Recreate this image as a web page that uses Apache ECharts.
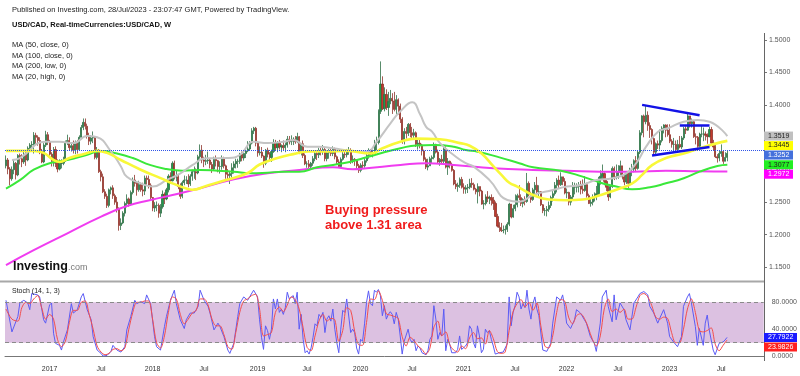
<!DOCTYPE html>
<html>
<head>
<meta charset="utf-8">
<title>USD/CAD weekly</title>
<script src="https://cdn.jsdelivr.net/npm/echarts/dist/echarts.min.js"></script>
<style>
  body { margin: 0; padding: 0; background: #fff; }
  #main { width: 800px; height: 376px; }
</style>
</head>
<body>
<div id="main"></div>
<script>
// weekly bars, first week starts Mon 2016-08-01
var firstOpen = 1.306;
var closes = [
  1.315,1.301,1.286,1.300,1.310,1.292,1.322,1.317,1.312,1.324,1.315,1.333,1.338,1.339,1.353,1.350,1.345,1.329,1.312,1.338,1.354,1.343,
  1.324,1.313,1.331,1.310,1.301,1.310,1.310,1.314,1.342,1.345,1.334,1.337,1.330,1.342,1.331,1.350,1.365,1.373,1.367,1.352,1.344,1.349,1.350,1.319,1.330,1.297,1.289,1.266,1.259,1.245,1.269,1.272,1.260,1.250,1.240,1.214,1.218,1.233,1.248,1.255,1.247,1.265,1.284,1.279,1.269,1.277,1.269,1.267,1.287,1.285,1.276,1.257,
  1.241,1.245,1.245,1.233,1.243,1.262,1.255,1.269,1.290,1.283,1.310,1.289,1.289,1.274,1.259,1.280,1.284,1.284,1.278,1.290,1.297,1.297,1.295,1.320,1.330,1.315,1.313,1.314,1.315,1.308,1.301,1.316,1.314,1.305,1.305,1.317,1.306,1.293,1.291,1.294,1.303,1.309,1.313,1.313,1.324,1.318,1.325,1.329,1.332,1.341,1.360,1.364,
  1.341,1.326,1.327,1.321,1.310,1.330,1.324,1.319,1.328,1.342,1.334,1.342,1.335,1.337,1.334,1.338,1.347,1.343,1.344,1.347,1.343,1.351,1.328,1.340,1.322,1.309,1.309,1.305,1.310,1.317,1.325,1.323,1.330,1.328,1.331,1.317,1.326,1.328,1.325,1.332,1.320,1.312,1.305,1.316,1.324,1.323,1.328,1.328,1.314,1.316,1.314,1.306,
  1.299,1.307,1.306,1.314,1.322,1.330,1.324,1.324,1.342,1.342,1.390,1.432,1.394,1.416,1.396,1.405,1.410,1.406,1.393,1.408,1.398,1.378,1.344,1.359,1.356,1.370,1.357,1.353,1.357,1.339,1.341,1.338,1.329,1.316,1.304,1.306,1.317,1.319,1.339,1.327,1.312,1.316,1.313,1.332,1.304,1.313,1.308,1.299,1.278,1.274,1.276,1.285,
  1.273,1.270,1.272,1.273,1.279,1.277,1.270,1.266,1.274,1.267,1.247,1.248,1.258,1.256,1.257,1.253,1.248,1.228,1.213,1.211,1.206,1.207,1.208,1.216,1.247,1.227,1.240,1.246,1.260,1.257,1.248,1.254,1.251,1.279,1.262,1.254,1.269,1.276,1.266,1.266,1.246,1.237,1.237,1.239,1.245,1.257,1.263,1.276,1.284,1.277,1.289,1.282,1.264,
  1.265,1.250,1.258,1.273,1.273,1.274,1.276,1.270,1.268,1.277,1.260,1.248,1.250,1.257,1.261,1.263,1.285,1.290,1.294,1.282,1.273,1.258,1.274,1.302,1.289,1.289,1.296,1.306,1.289,1.281,1.295,1.279,1.301,1.301,1.314,1.302,1.327,1.357,1.383,1.374,1.384,1.368,1.362,1.348,1.327,1.340,1.338,1.345,1.364,1.369,1.361,1.354,
  1.344,1.339,1.339,1.331,1.339,1.335,1.349,1.363,1.361,1.383,1.371,1.374,1.351,1.350,1.336,1.355,1.355,1.355,1.353,1.351,1.362,1.341,1.335,1.320,1.318,1.325,1.328,1.313,1.319,1.3252
];
var highs = [
  1.322,1.318,1.304,1.305,1.315,1.312,1.324,1.325,1.324,1.330,1.327,1.336,1.341,1.344,1.358,1.357,1.353,1.350,1.332,1.341,1.360,1.358,
  1.346,1.327,1.335,1.336,1.316,1.316,1.316,1.320,1.345,1.354,1.350,1.342,1.345,1.345,1.346,1.353,1.369,1.379,1.379,1.371,1.357,1.353,1.359,1.352,1.335,1.332,1.300,1.294,1.270,1.263,1.271,1.274,1.276,1.263,1.258,1.242,1.225,1.236,1.251,1.262,1.257,1.268,1.288,1.292,1.282,1.283,1.280,1.280,1.291,1.291,1.291,1.279,
  1.258,1.250,1.251,1.248,1.247,1.268,1.265,1.272,1.293,1.296,1.313,1.314,1.298,1.293,1.279,1.283,1.291,1.290,1.293,1.293,1.300,1.305,1.302,1.323,1.339,1.338,1.320,1.323,1.328,1.317,1.312,1.320,1.322,1.315,1.313,1.322,1.320,1.308,1.301,1.297,1.310,1.313,1.317,1.317,1.326,1.328,1.329,1.334,1.344,1.344,1.364,1.366,
  1.366,1.343,1.336,1.335,1.322,1.332,1.334,1.327,1.331,1.347,1.346,1.344,1.346,1.339,1.345,1.342,1.352,1.352,1.353,1.350,1.352,1.357,1.352,1.341,1.345,1.325,1.313,1.315,1.312,1.321,1.329,1.330,1.334,1.334,1.338,1.334,1.330,1.332,1.334,1.336,1.334,1.322,1.316,1.319,1.328,1.330,1.332,1.335,1.333,1.322,1.318,1.316,
  1.309,1.310,1.313,1.318,1.328,1.333,1.332,1.331,1.346,1.351,1.393,1.467,1.444,1.427,1.424,1.420,1.423,1.418,1.420,1.415,1.410,1.402,1.381,1.364,1.366,1.372,1.372,1.366,1.363,1.359,1.348,1.348,1.340,1.331,1.319,1.317,1.320,1.322,1.342,1.340,1.331,1.318,1.323,1.337,1.336,1.318,1.314,1.311,1.301,1.284,1.280,1.288,
  1.289,1.279,1.276,1.278,1.286,1.287,1.280,1.272,1.279,1.274,1.269,1.253,1.262,1.267,1.260,1.262,1.258,1.251,1.232,1.219,1.218,1.214,1.214,1.219,1.249,1.247,1.246,1.262,1.263,1.276,1.262,1.256,1.259,1.295,1.282,1.266,1.272,1.281,1.289,1.276,1.267,1.247,1.241,1.244,1.251,1.260,1.267,1.281,1.287,1.291,1.296,1.289,1.287,
  1.271,1.266,1.261,1.281,1.280,1.279,1.281,1.283,1.285,1.290,1.280,1.263,1.255,1.262,1.265,1.275,1.289,1.299,1.308,1.296,1.285,1.275,1.276,1.305,1.305,1.308,1.307,1.314,1.306,1.292,1.297,1.297,1.303,1.309,1.316,1.321,1.330,1.361,1.384,1.385,1.398,1.390,1.373,1.364,1.350,1.342,1.345,1.362,1.367,1.370,1.370,1.370,
  1.370,1.347,1.349,1.345,1.346,1.352,1.352,1.366,1.367,1.386,1.383,1.379,1.376,1.356,1.352,1.357,1.368,1.365,1.359,1.356,1.366,1.366,1.346,1.339,1.324,1.330,1.339,1.330,1.327,1.329
];
var lows = [
  1.302,1.293,1.276,1.283,1.293,1.285,1.290,1.308,1.304,1.309,1.306,1.313,1.327,1.330,1.325,1.340,1.337,1.324,1.310,1.310,1.335,1.338,
  1.318,1.305,1.305,1.304,1.296,1.299,1.302,1.307,1.312,1.338,1.330,1.328,1.325,1.324,1.325,1.329,1.347,1.361,1.362,1.348,1.338,1.339,1.341,1.316,1.316,1.295,1.282,1.264,1.255,1.241,1.242,1.262,1.255,1.246,1.234,1.206,1.207,1.216,1.228,1.242,1.243,1.245,1.262,1.274,1.260,1.266,1.266,1.259,1.261,1.277,1.271,1.254,
  1.236,1.235,1.236,1.226,1.227,1.240,1.247,1.253,1.265,1.278,1.282,1.285,1.282,1.270,1.255,1.256,1.276,1.278,1.273,1.275,1.283,1.286,1.284,1.293,1.317,1.310,1.304,1.307,1.309,1.302,1.295,1.298,1.305,1.296,1.294,1.300,1.302,1.286,1.284,1.278,1.288,1.294,1.302,1.303,1.309,1.313,1.314,1.318,1.327,1.330,1.339,1.355,
  1.336,1.320,1.322,1.318,1.303,1.307,1.319,1.313,1.312,1.326,1.330,1.327,1.331,1.327,1.329,1.327,1.334,1.339,1.338,1.338,1.340,1.341,1.324,1.322,1.318,1.307,1.303,1.302,1.301,1.306,1.313,1.315,1.318,1.322,1.323,1.313,1.313,1.317,1.321,1.321,1.316,1.308,1.303,1.303,1.314,1.318,1.319,1.323,1.309,1.310,1.306,1.301,
  1.295,1.296,1.301,1.303,1.311,1.317,1.322,1.319,1.323,1.330,1.339,1.386,1.392,1.390,1.392,1.383,1.401,1.386,1.390,1.386,1.385,1.372,1.340,1.339,1.348,1.352,1.350,1.347,1.349,1.335,1.331,1.333,1.322,1.313,1.301,1.299,1.306,1.310,1.316,1.325,1.310,1.306,1.309,1.310,1.302,1.292,1.302,1.297,1.276,1.270,1.266,1.272,
  1.271,1.263,1.263,1.264,1.270,1.272,1.268,1.262,1.248,1.259,1.246,1.239,1.245,1.250,1.247,1.245,1.238,1.227,1.211,1.204,1.204,1.202,1.200,1.204,1.213,1.225,1.226,1.236,1.242,1.253,1.244,1.242,1.245,1.249,1.259,1.249,1.252,1.262,1.262,1.258,1.244,1.233,1.229,1.228,1.235,1.241,1.251,1.260,1.265,1.272,1.275,1.276,1.262,
  1.256,1.245,1.245,1.254,1.262,1.265,1.265,1.262,1.263,1.266,1.257,1.247,1.243,1.245,1.251,1.253,1.260,1.277,1.285,1.276,1.267,1.252,1.256,1.272,1.284,1.285,1.286,1.292,1.285,1.276,1.278,1.272,1.278,1.290,1.296,1.298,1.300,1.324,1.353,1.350,1.370,1.360,1.349,1.339,1.323,1.322,1.332,1.331,1.342,1.356,1.350,1.351,
  1.341,1.334,1.330,1.330,1.326,1.333,1.332,1.346,1.355,1.360,1.365,1.365,1.349,1.339,1.331,1.335,1.350,1.344,1.345,1.340,1.350,1.340,1.329,1.318,1.311,1.313,1.320,1.309,1.313,1.313
];
var futureWeeks = 18;

// moving averages: [week index, value]
var ma50Close = [[0,1.329],[7,1.329],[14,1.329],[19,1.326],[24,1.315],[27,1.312],[32,1.318],[39,1.324],[46,1.329],[51,1.326],[58,1.315],[68,1.300],[78,1.287],[84,1.279],[91,1.271],[94,1.269],[101,1.275],[111,1.284],[122,1.295],[128,1.308],[137,1.318],[145,1.324],[153,1.328],[162,1.328],[172,1.329],[184,1.325],[190,1.333],[199,1.343],[207,1.348],[219,1.347],[229,1.341],[234,1.337],[240,1.325],[246,1.305],[250,1.292],[254,1.280],[258,1.274],[266,1.261],[274,1.254],[283,1.253],[291,1.254],[300,1.261],[308,1.269],[316,1.279],[321,1.292],[326,1.307],[333,1.318],[342,1.325],[350,1.333],[359,1.341],[364,1.3445]];
var ma100Close = [[0,1.271],[7,1.284],[14,1.300],[22,1.310],[31,1.315],[41,1.323],[48,1.329],[56,1.325],[64,1.318],[73,1.307],[81,1.301],[89,1.2985],[98,1.2996],[107,1.2985],[115,1.297],[123,1.2945],[132,1.2954],[140,1.297],[148,1.297],[157,1.3037],[165,1.3073],[174,1.3124],[182,1.3191],[190,1.3262],[199,1.333],[207,1.3375],[216,1.338],[226,1.3355],[232,1.3304],[238,1.3278],[249,1.319],[259,1.310],[266,1.3037],[280,1.2985],[291,1.2893],[300,1.280],[308,1.274],[316,1.2698],[325,1.2729],[333,1.279],[342,1.2868],[350,1.297],[359,1.3057],[364,1.3077]];
var ma200Low = [[0,1.153],[14,1.176],[31,1.202],[48,1.2276],[61,1.244],[73,1.2533],[84,1.261],[98,1.2714],[115,1.2852],[132,1.2945],[148,1.2996],[165,1.3037],[175,1.3006],[182,1.3022],[199,1.3073],[212,1.310],[226,1.3073],[246,1.3022],[266,1.2996],[283,1.2985],[300,1.297],[316,1.297],[333,1.2985],[350,1.2975],[364,1.2972]];
var ma20High = [[3,1.315],[7,1.318],[20,1.343],[27,1.343],[34,1.341],[41,1.352],[46,1.350],[53,1.328],[58,1.305],[61,1.289],[68,1.279],[74,1.274],[81,1.284],[88,1.2945],[94,1.307],[101,1.3176],[112,1.318],[118,1.3227],[125,1.343],[132,1.341],[140,1.343],[145,1.346],[152,1.3355],[158,1.3355],[165,1.333],[174,1.329],[182,1.328],[187,1.343],[194,1.3716],[199,1.390],[205,1.404],[209,1.385],[212,1.366],[215,1.3586],[219,1.341],[227,1.320],[232,1.310],[236,1.3047],[244,1.284],[253,1.2533],[259,1.2507],[266,1.261],[276,1.2687],[283,1.274],[290,1.2764],[298,1.284],[306,1.2868],[313,1.2945],[318,1.310],[323,1.3355],[329,1.3586],[334,1.364],[342,1.374],[349,1.3767],[355,1.374],[364,1.3519]];

// stochastic (14,1,3): [week index, value]
var stochK = [[0,83],[3,36],[6,59],[7,79],[9,83],[11,79],[12,69],[13,93],[16,91],[17,88],[19,54],[20,49],[22,76],[23,79],[24,34],[25,19],[27,16],[28,9],[29,21],[31,39],[33,78],[34,64],[36,69],[38,88],[39,93],[41,69],[43,54],[44,29],[46,9],[48,4],[49,0],[51,1],[53,7],[54,16],[56,9],[58,6],[60,14],[61,39],[63,59],[65,83],[66,78],[68,81],[70,78],[71,91],[73,78],[75,29],[76,14],[78,9],[80,44],[81,59],[83,83],[85,98],[86,78],[88,54],[90,41],[91,54],[93,64],[95,64],[97,74],[98,98],[100,83],[102,74],[103,64],[105,39],[107,49],[108,44],[110,29],[112,9],[113,4],[115,19],[117,59],[118,78],[120,88],[122,83],[123,88],[125,98],[127,88],[128,54],
  [129,28],[130,10],[131,45],[132,38],[133,25],[134,40],[135,85],[136,70],[137,85],[138,65],[139,70],[140,62],[141,72],[142,95],[143,85],[144,85],[145,90],[146,78],[147,95],[148,40],[149,62],[150,25],[151,5],[152,8],[153,3],[154,12],[155,28],[156,48],[157,45],[158,62],[159,58],[160,65],[161,35],[162,55],[163,60],[164,52],[165,70],[166,40],[167,20],[168,5],[169,40],[170,68],[171,65],[172,85],[173,85],[174,35],[175,40],[176,35],[177,12],[178,3],[179,25],[180,22],[181,48],[182,80],[183,97],[184,78],[185,75],[186,98],[187,95],[188,99],[189,90],[190,60],[191,75],[192,55],[193,62],[194,66],[195,62],[196,48],[197,65],[198,55],[199,30],[200,3],[201,22],[202,20],[203,40],[204,25],[205,20],[206,25],[207,8],[208,15],[209,12],[210,5],[211,3],[212,2],[213,8],[214,25],[215,30],[216,75],[217,55],[218,25],[219,35],[220,30],[221,70],[222,8],[223,25],[224,18],[225,5],[226,3],[227,5],[228,10],[229,30],[230,10],[231,8],[232,15],[233,20],[234,45],[235,40],[236,20],[237,12],[238,45],[239,30],[240,5],[241,10],[242,40],[243,35],[244,38],[245,25],[246,15],[247,3],[248,3],[249,5],[250,3],[251,6],[252,8],[253,18],[254,88],[255,45],[256,65],[257,75],[258,95],[259,88],[260,70],[261,78],[262,72],[263,98],[264,70],[265,55],[266,78],[267,88],[268,70],[269,60],
  [271,9],[273,7],[275,19],[276,49],[278,88],[280,83],[281,91],[282,74],[283,49],[285,41],[287,54],[288,69],[290,64],[292,54],[293,49],[295,29],[297,19],[298,7],[300,49],[301,88],[303,98],[304,74],[306,51],[307,91],[308,54],[310,79],[312,69],[313,54],[315,39],[317,79],[319,88],[320,93],[322,96],[324,91],[325,74],[327,64],[329,49],[330,56],[332,69],[334,49],[335,29],[337,21],[339,14],[341,29],[342,74],[344,88],[345,93],[346,79],[348,44],[349,16],[350,41],[352,16],[353,49],[354,61],[355,39],[357,9],[358,2],[360,19],[362,21],[363,24],[364,27.7922]];
var stochD = [[0,70],[3,55],[6,52],[8,72],[10,80],[12,78],[14,85],[16,90],[18,72],[20,55],[22,62],[24,55],[26,25],[28,14],[30,22],[32,50],[34,68],[36,68],[38,80],[40,82],[42,62],[44,40],[46,15],[48,6],[50,2],[52,4],[54,10],[56,11],[58,8],[60,12],[62,40],[64,65],[66,80],[68,80],[70,82],[72,82],[74,55],[76,20],[78,12],[80,30],[82,65],[84,88],[86,85],[88,62],[90,48],[92,55],[94,64],[96,68],[98,85],[100,85],[102,76],[104,55],[106,45],[108,45],[110,32],[112,14],[114,10],[116,35],[118,65],[120,82],[122,85],[124,90],[126,92],[128,70],
  [130,30],[132,32],[134,35],[136,65],[138,73],[140,66],[142,76],[144,88],[146,84],[148,70],[150,42],[152,13],[154,8],[156,30],[158,52],[160,62],[162,52],[164,56],[166,54],[168,22],[170,38],[172,72],[174,68],[176,37],[178,17],[180,16],[182,50],[184,85],[186,84],[188,97],[190,83],[192,63],[194,61],[196,59],[198,56],[200,29],[202,15],[204,28],[206,23],[208,15],[210,10],[212,3],[214,12],[216,43],[218,52],[220,30],[222,36],[224,17],[226,9],[228,6],[230,15],[232,11],[234,27],[236,35],[238,26],[240,27],[242,18],[244,38],[246,26],[248,7],[250,4],[252,6],[254,38],[256,66],[258,78],[260,84],[262,73],[264,80],[266,68],[268,79],[270,45],
  [272,15],[274,12],[276,30],[278,65],[280,84],[282,82],[284,58],[286,48],[288,60],[290,63],[292,56],[294,42],[296,25],[298,15],[300,30],[302,70],[304,85],[306,66],[308,70],[310,65],[312,70],[314,55],[316,55],[318,72],[320,90],[322,93],[324,88],[326,75],[328,58],[330,55],[332,58],[334,56],[336,35],[338,20],[340,20],[342,40],[344,70],[346,85],[348,65],[350,38],[352,36],[354,38],[356,42],[358,18],[360,8],[362,16],[364,23.9826]];

// hand drawn trend lines: [[week, price], [week, price]]
var trendLines = [
  [[321, 1.400], [350, 1.384]],
  [[326, 1.322], [355, 1.335]],
  [[340, 1.3685], [355, 1.3685]]
];

var FONT = "'Liberation Sans', Arial, sans-serif";

// week categories (Mondays)
var weeks = [];
var t0 = Date.UTC(2016, 7, 1);
for (var i = 0; i < closes.length + futureWeeks; i++) {
  weeks.push(new Date(t0 + i * 7 * 86400000).toISOString().slice(0, 10));
}

var candles = [];
for (var i = 0; i < closes.length; i++) {
  var o = i ? closes[i - 1] : firstOpen;
  candles.push([o, closes[i], lows[i], highs[i]]);
}
var lastClose = closes[closes.length - 1];

function maLine(name, data, color, width) {
  return {
    name: name, type: 'line', xAxisIndex: 0, yAxisIndex: 0,
    data: data, smooth: 0.5, showSymbol: false, silent: true, z: 4,
    lineStyle: { color: color, width: width }
  };
}

var chart = echarts.init(document.getElementById('main'));

var option = {
  animation: false,
  backgroundColor: '#ffffff',
  grid: [
    { left: 5, right: 36, top: 40, height: 227 },
    { left: 5, right: 36, top: 275.4, height: 80.7 }
  ],
  xAxis: [
    { type: 'category', gridIndex: 0, data: weeks, boundaryGap: true, show: false },
    { type: 'category', gridIndex: 1, data: weeks, boundaryGap: true, offset: 5,
      axisLine: { lineStyle: { color: '#777', width: 1 } },
      axisTick: { show: false },
      axisLabel: {
        color: '#333', fontSize: 7, fontFamily: FONT, margin: 4,
        interval: function (idx, v) {
          var m = v.slice(5, 7);
          return +v.slice(8) <= 7 && (m === '01' || m === '07');
        },
        formatter: function (v) { return v.slice(5, 7) === '01' ? v.slice(0, 4) : 'Jul'; }
      }
    }
  ],
  yAxis: [
    { type: 'value', gridIndex: 0, position: 'right', min: 1.15, max: 1.5, interval: 0.05,
      axisLine: { show: false }, splitLine: { show: false },
      axisTick: { show: true, length: 3, lineStyle: { color: '#777' } },
      axisLabel: { color: '#555', fontSize: 7, fontFamily: FONT, margin: 5,
        formatter: function (v) { return v.toFixed(4); } }
    },
    { type: 'value', gridIndex: 1, position: 'right', min: 0, max: 120, interval: 40,
      axisLine: { show: false }, splitLine: { show: false }, axisTick: { show: false },
      axisLabel: { color: '#555', fontSize: 7, fontFamily: FONT, margin: 8, showMaxLabel: false,
        formatter: function (v) { return v.toFixed(4); } }
    }
  ],
  series: [
    {
      name: 'USD/CAD', type: 'candlestick', xAxisIndex: 0, yAxisIndex: 0,
      data: candles, barWidth: 1.6, z: 3,
      itemStyle: {
        color: '#1f9a4c', color0: '#c23a2e',
        borderColor: '#2f6f45', borderColor0: '#8f352c', borderWidth: 0.8
      },
      markLine: {
        silent: true, symbol: ['none', 'none'], label: { show: false },
        data: [{ yAxis: lastClose, lineStyle: { type: 'dotted', color: '#2f55e8', width: 1 } }].concat(
          trendLines.map(function (l) {
            return [{ coord: l[0], lineStyle: { color: '#1212e6', width: 2.5, type: 'solid' } }, { coord: l[1] }];
          })
        )
      }
    },
    maLine('MA200 low', ma200Low, '#f03cf0', 2),
    maLine('MA100 close', ma100Close, '#3ae83a', 2),
    maLine('MA20 high', ma20High, '#c4c4c4', 2),
    maLine('MA50 close', ma50Close, '#f8f838', 2.6),
    {
      name: '%K', type: 'line', xAxisIndex: 1, yAxisIndex: 1, data: stochK,
      showSymbol: false, silent: true, z: 4,
      lineStyle: { color: '#5b5bf5', width: 1 },
      markArea: { silent: true, itemStyle: { color: '#dcc1e1' }, data: [[{ yAxis: 20 }, { yAxis: 80 }]] },
      markLine: { silent: true, symbol: ['none', 'none'], label: { show: false },
        lineStyle: { color: '#8a8a8a', type: [4, 3], width: 1 },
        data: [{ yAxis: 20 }, { yAxis: 80 }] }
    },
    {
      name: '%D', type: 'line', xAxisIndex: 1, yAxisIndex: 1, data: stochD, smooth: 0.3,
      showSymbol: false, silent: true, z: 4,
      lineStyle: { color: '#f24d4d', width: 1 }
    }
  ]
};
chart.setOption(option);

function txt(x, y, s, size, color, weight) {
  return { type: 'text', x: x, y: y, silent: true, z: 20,
    style: { text: s, fill: color || '#222', fontSize: size, fontFamily: FONT,
      fontWeight: weight || 'normal', verticalAlign: 'middle' } };
}

// value tags on the right scale, pushed apart when they would overlap
function tags(list, axisIdx, gap) {
  list.forEach(function (t) { t.y = chart.convertToPixel({ yAxisIndex: axisIdx }, t.v); });
  list.sort(function (a, b) { return a.y - b.y; });
  for (var i = 1; i < list.length; i++) {
    if (list[i].y - list[i - 1].y < gap) list[i].y = list[i - 1].y + gap;
  }
  var out = [];
  list.forEach(function (t) {
    out.push({ type: 'rect', silent: true, z: 21, shape: { x: 764, y: t.y - 4.5, width: t.w, height: 9 }, style: { fill: t.bg } });
    var e = txt(768, t.y, t.v.toFixed(4), 7, t.fg);
    e.z = 22;
    out.push(e);
  });
  return out;
}

var priceTags = tags([
  { v: ma20High[ma20High.length - 1][1], bg: '#c0c0c0', fg: '#222', w: 29 },
  { v: ma50Close[ma50Close.length - 1][1], bg: '#ffff00', fg: '#222', w: 29 },
  { v: lastClose, bg: '#4470dc', fg: '#fff', w: 29 },
  { v: ma100Close[ma100Close.length - 1][1], bg: '#22ee22', fg: '#222', w: 29 },
  { v: ma200Low[ma200Low.length - 1][1], bg: '#ff00ff', fg: '#fff', w: 29 }
], 0, 9.5);
var stochTags = tags([
  { v: stochK[stochK.length - 1][1], bg: '#1a1aff', fg: '#fff', w: 33 },
  { v: stochD[stochD.length - 1][1], bg: '#ff2020', fg: '#fff', w: 33 }
], 1, 9.5);

var graphics = [
  txt(12, 10, 'Published on Investing.com, 28/Jul/2023 - 23:07:47 GMT, Powered by TradingView.', 7.5, '#222'),
  txt(12, 25, 'USD/CAD, Real-timeCurrencies:USD/CAD, W', 7.5, '#111', 'bold'),
  txt(12, 45, 'MA (50, close, 0)', 7.5, '#222'),
  txt(12, 55.5, 'MA (100, close, 0)', 7.5, '#222'),
  txt(12, 66, 'MA (200, low, 0)', 7.5, '#222'),
  txt(12, 76.5, 'MA (20, high, 0)', 7.5, '#222'),
  txt(325, 210, 'Buying pressure', 13, '#f01c1c', 'bold'),
  txt(325, 225, 'above 1.31 area', 13, '#f01c1c', 'bold'),
  txt(13, 266.5, 'Investing', 12.5, '#111', 'bold'),
  txt(68, 268, '.com', 9, '#777'),
  txt(12, 291, 'Stoch (14, 1, 3)', 7, '#222'),
  { type: 'line', silent: true, z: 15, shape: { x1: 0, y1: 281.5, x2: 764, y2: 281.5 }, style: { stroke: '#a8a8a8', lineWidth: 2 } },
  { type: 'line', silent: true, z: 15, shape: { x1: 764.5, y1: 33, x2: 764.5, y2: 361 }, style: { stroke: '#666', lineWidth: 1 } }
].concat(priceTags, stochTags);

chart.setOption({ graphic: graphics });
</script>
</body>
</html>
